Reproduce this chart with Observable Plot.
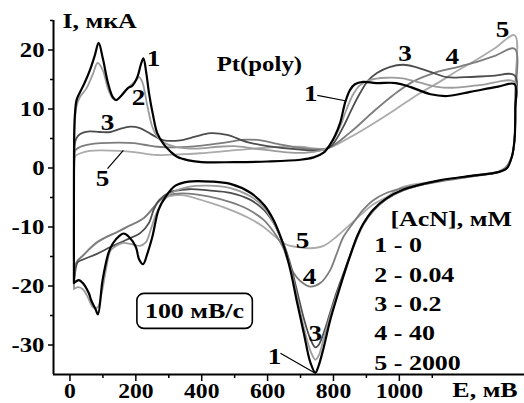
<!DOCTYPE html>
<html><head><meta charset="utf-8">
<script src="https://cdn.jsdelivr.net/npm/d3@7"></script>
<script src="https://cdn.jsdelivr.net/npm/@observablehq/plot@0.6"></script>
<style>body{margin:0;background:#fff;} svg{display:block}</style>
</head><body><div id="chart"></div>
<script>
// ---- Data: cyclic voltammograms [E (mV), I (µA)], anodic then cathodic sweep ----
const curve1 = [[12,-19.5],[12,-5],[13,6],[15,9],[20,11.5],[30,12.8],[45,14.5],[60,16.5],[75,19],[87,21.2],[100,18.5],[115,14.5],[130,12],[140,11.5],[155,12.2],[175,13.5],[190,14],[205,15.5],[215,17.5],[223,18.6],[232,16],[240,12.7],[252,9],[265,5.9],[285,4.0],[305,2.8],[325,1.9],[360,1.3],[400,1.0],[500,1.0],[600,1.1],[700,1.4],[740,1.8],[770,2.6],[790,4],[805,5.5],[820,7.6],[836,11.2],[850,13.2],[865,14.2],[890,14.6],[930,14.4],[990,14.4],[1035,13.7],[1095,12.5],[1145,12.2],[1215,12.9],[1300,13.8],[1350,14.2],
  [1352,10],[1350,5],[1342,2],[1327,0],[1300,-0.7],[1224,-1.3],[1122,-2.1],[1011,-3.7],[960,-5.2],[920,-7.1],[890,-9.5],[871,-11.7],[850,-15],[836,-17.3],[810,-22],[790,-25.8],[770,-30.5],[755,-33.5],[745,-34.7],[730,-33],[710,-28],[690,-22.9],[670,-17.5],[653,-13.9],[635,-11],[618,-8.8],[590,-6.3],[548,-4.2],[487,-2.7],[430,-2.3],[360,-2.3],[320,-3.0],[290,-4.9],[269,-7.1],[250,-11.7],[235,-14.5],[222,-16.3],[210,-15.5],[200,-13.4],[178,-11.6],[163,-11.1],[150,-11.5],[130,-12.8],[117,-14.4],[99,-19],[85,-24.8],[78,-24],[65,-22.5],[57,-21.2],[39,-19.5],[27,-19],[12,-19.5]];
const curve2 = [[12,-20.5],[12,-5],[13,5],[15,8],[20,10.5],[30,12],[50,13.5],[70,16],[84,17.8],[100,16.5],[115,13.5],[130,11.8],[140,11.5],[160,12.5],[180,13.8],[200,14.8],[210,15.4],[220,14.5],[235,10.5],[250,7],[265,5.3],[285,4.3],[320,3.6],[380,3.3],[450,3.6],[500,3.7],[560,3.3],[650,2.7],[720,2.6],[780,3.4],[800,4.8],[820,7],[840,10],[860,12.5],[880,14],[910,14.9],[960,15.3],[1010,15.2],[1060,14.5],[1110,13.8],[1160,13.6],[1250,14.1],[1350,14.6],
  [1352,10],[1350,5],[1342,2],[1325,0],[1300,-0.7],[1224,-1.3],[1122,-2.2],[1011,-3.8],[960,-5.3],[920,-7.3],[890,-9.7],[871,-12],[850,-15],[836,-17.5],[810,-21.5],[790,-25],[770,-29],[755,-31.8],[745,-32.5],[730,-31],[710,-27],[690,-22],[670,-17],[653,-13.8],[635,-11.2],[618,-9.2],[590,-6.8],[548,-4.8],[487,-3.4],[420,-3.0],[360,-3.2],[310,-4.2],[280,-5.8],[260,-8],[245,-10.5],[230,-12.6],[212,-13.2],[195,-13],[178,-12.8],[163,-12.7],[140,-13.2],[123,-14],[110,-17],[97,-21],[84,-23.6],[70,-23.6],[55,-22],[40,-20.6],[25,-20.2],[12,-20.5]];
const curve3 = [[12,-19.5],[12,-5],[13,2],[16,4.5],[25,5.5],[40,6],[60,6.2],[90,6.1],[123,6.1],[150,6.6],[184,7.0],[210,6.8],[235,6.1],[260,5.3],[285,4.7],[335,4.7],[380,5.3],[426,5.9],[477,5.6],[538,4.4],[600,3.7],[700,3.1],[760,3.0],[790,3.6],[810,5],[830,7],[860,10.5],[881,12.7],[905,14.8],[932,16.1],[970,17.1],[1012,17.5],[1050,17.1],[1094,16.3],[1144,15.4],[1200,15.4],[1280,15.6],[1350,15.7],
  [1352,10],[1350,5],[1342,2],[1325,0],[1300,-0.7],[1224,-1.3],[1122,-2.2],[1011,-3.8],[960,-5.3],[920,-7.3],[890,-9.6],[871,-11.8],[850,-14.8],[836,-17],[810,-21],[790,-24.5],[770,-28],[755,-30],[745,-30.4],[730,-29],[710,-25.5],[690,-21],[670,-16.5],[653,-13.5],[635,-11.2],[618,-9.3],[590,-7.2],[548,-5.4],[487,-4.2],[420,-3.8],[360,-3.6],[300,-4.2],[270,-5.5],[254,-7.1],[240,-9.3],[214,-11],[170,-12.2],[123,-13.4],[80,-14.6],[40,-15.5],[23,-16],[15,-18],[12,-19.5]];
const curve4 = [[12,-19.8],[12,-5],[13,1],[16,3],[32,3.6],[60,4],[93,4.2],[150,4.3],[195,4.2],[230,3.9],[265,3.6],[320,3.5],[400,3.8],[470,4.3],[530,4.8],[580,4.7],[630,4.1],[700,3.4],[780,3.3],[850,6],[920,9.5],[980,12.3],[1040,14.6],[1100,16.0],[1160,16.9],[1224,17.8],[1290,19],[1350,20.2],
  [1352,12],[1350,5],[1342,2],[1323,0],[1300,-0.7],[1224,-1.4],[1122,-2.3],[1011,-3.4],[962,-4.2],[920,-5.5],[890,-7.1],[860,-9.3],[830,-11.7],[810,-14.5],[790,-17.3],[760,-19.5],[729,-20.1],[700,-19.2],[679,-17.8],[660,-15.5],[648,-13.6],[628,-11.6],[588,-8.8],[540,-7],[487,-5.8],[420,-4.8],[340,-4.3],[300,-4.6],[275,-5.4],[224,-8.5],[180,-9.8],[145,-10.8],[84,-12.5],[40,-14.8],[20,-16],[14,-18],[12,-19.8]];
const curve5 = [[12,-20],[12,-5],[13,0],[16,2],[32,2.5],[60,2.9],[93,3.0],[150,2.9],[195,2.7],[265,2.2],[330,2.3],[396,2.5],[480,2.9],[560,3.3],[640,3.6],[700,3.6],[780,3.3],[850,5.2],[920,7.5],[990,10],[1060,12.6],[1122,14.6],[1180,16.6],[1224,18],[1290,20.3],[1350,22.5],
  [1352,14],[1350,5],[1342,2],[1320,0],[1300,-0.6],[1224,-1.3],[1122,-2.2],[1011,-3.2],[962,-4.9],[920,-6.2],[890,-7.6],[850,-9.6],[810,-11.6],[770,-13.2],[729,-13.6],[690,-13.4],[658,-13],[620,-11.5],[588,-10],[540,-8.4],[487,-7.1],[420,-5.8],[340,-4.6],[300,-4.8],[275,-5.4],[224,-8.5],[180,-9.8],[145,-10.8],[84,-12.6],[40,-14.8],[20,-16],[14,-18],[12,-20]];

// Ticks
const xTickLabels = [0, 200, 400, 600, 800, 1000];
const xMinorTicks = [100, 300, 500, 700, 900, 1100];
const yTickLabels = [-30, -20, -10, 0, 10, 20];
const yMinorTicks = [-25, -15, -5, 5, 15, 25];

// Legend text
const legendTitle = "[AcN], мМ";
const legendItems = ["1 - 0", "2 - 0.04", "3 - 0.2", "4 - 40", "5 - 2000"];

// ---- Annotations (data coordinates) ----
const curveLabels = [
  {t:"1", E:254, I:18.6}, {t:"2", E:208, I:11.9}, {t:"3", E:114, I:7.7}, {t:"5", E:99, I:-1.8},
  {t:"1", E:731, I:12.6}, {t:"3", E:1017, I:19.4}, {t:"4", E:1161, I:18.9}, {t:"5", E:1313, I:23.5},
  {t:"5", E:706, I:-12.3}, {t:"4", E:727, I:-18.4}, {t:"3", E:745, I:-28}, {t:"1", E:621, I:-31.9}
];
const leaders = [
  {E1:114, I1:-0.1, E2:162, I2:3.0},
  {E1:751, I1:12.3, E2:836, I2:11.4},
  {E1:639, I1:-31.4, E2:745, I2:-34.8}
];
const legendRows = legendItems.map((t, i) => ({t, E: 924, I: -13.1 - 4.98 * i}));

const F = "Liberation Serif, Times New Roman, serif";
const series = [
  {pts: curve5, color: "#ababab", w: 1.8},
  {pts: curve4, color: "#7d7d7d", w: 1.8},
  {pts: curve3, color: "#4d4d4d", w: 1.8},
  {pts: curve2, color: "#9c9c9c", w: 1.8},
  {pts: curve1, color: "#000000", w: 2.2}
];

const chart = Plot.plot({
  width: 524, height: 403,
  marginLeft: 53, marginRight: 0, marginTop: 20, marginBottom: 29,
  x: {domain: [-50, 1380], label: null},
  y: {domain: [-35, 25], label: null},
  style: {background: "white", fontFamily: F, fontWeight: "bold", fontSize: "21px", overflow: "visible"},
  marks: [
    Plot.axisY({ticks: yTickLabels, tickSize: 5, tickPadding: 4, tickFormat: d => String(d), fontSize: 21, fontWeight: "bold", strokeWidth: 1.5, label: null}),
    Plot.axisY({ticks: yMinorTicks, tickSize: 3, tickFormat: () => "", strokeWidth: 1.5, label: null}),
    Plot.axisX({ticks: xTickLabels, tickSize: 7, tickPadding: 2, tickFormat: d => String(d), fontSize: 20, fontWeight: "bold", strokeWidth: 1.5, label: null}),
    Plot.axisX({ticks: xMinorTicks, tickSize: 4, tickFormat: () => "", strokeWidth: 1.5, label: null}),
    ...series.map(s => Plot.line(s.pts, {x: d => d[0], y: d => d[1], stroke: s.color, strokeWidth: s.w, curve: "catmull-rom", strokeLinejoin: "round"})),
    Plot.ruleX([-50], {stroke: "black", strokeWidth: 2}),
    Plot.ruleY([-35], {stroke: "black", strokeWidth: 2}),
    Plot.link(leaders, {x1: "E1", y1: "I1", x2: "E2", y2: "I2", stroke: "black", strokeWidth: 1.2}),
    Plot.text(curveLabels, {x: "E", y: "I", text: "t", fontSize: 23, fontWeight: "bold", fontFamily: F, fill: "black"}),
    Plot.text(["I, мкА"], {x: -23, y: 25, text: d => d, textAnchor: "start", fontSize: 22, fontWeight: "bold", fontFamily: F, fill: "black"}),
    Plot.text(["Pt(poly)"], {x: 575, y: 17.6, text: d => d, fontSize: 21, fontWeight: "bold", fontFamily: F, fill: "black"}),
    Plot.text(["E, мВ"], {x: 1161, y: -37.7, text: d => d, textAnchor: "start", fontSize: 22, fontWeight: "bold", fontFamily: F, fill: "black"}),
    Plot.text([legendTitle], {x: 973, y: -8.6, text: d => d, textAnchor: "start", fontSize: 22, fontWeight: "bold", fontFamily: F, fill: "black"}),
    Plot.text(legendRows, {x: "E", y: "I", text: "t", textAnchor: "start", fontSize: 22, fontWeight: "bold", fontFamily: F, fill: "black"}),
    Plot.text(["100 мВ/с"], {x: 378, y: -24.3, text: d => d, fontSize: 22, fontWeight: "bold", fontFamily: F, fill: "black"})
  ]
});

document.getElementById("chart").append(chart);

// Horizontal stretch of the bold serif text to match the reference's wide lettering
const STRETCH = 1.18;
chart.querySelectorAll("text").forEach(t => {
  const L = t.getComputedTextLength();
  if (L > 0) {
    t.setAttribute("textLength", (L * STRETCH).toFixed(2));
    t.setAttribute("lengthAdjust", "spacingAndGlyphs");
  }
});

// Rounded box around the scan-rate note
const svgBox = chart.getBoundingClientRect();
chart.querySelectorAll("text").forEach(t => {
  if (t.textContent === "100 мВ/с") {
    const bb = t.getBoundingClientRect();
    d3.select(chart).append("rect")
      .attr("x", bb.left - svgBox.left - 8).attr("y", bb.top - svgBox.top - 5)
      .attr("width", bb.width + 16).attr("height", bb.height + 10)
      .attr("rx", 7).attr("ry", 7)
      .attr("fill", "none").attr("stroke", "black").attr("stroke-width", 1.6);
  }
});
</script>
</body></html>
